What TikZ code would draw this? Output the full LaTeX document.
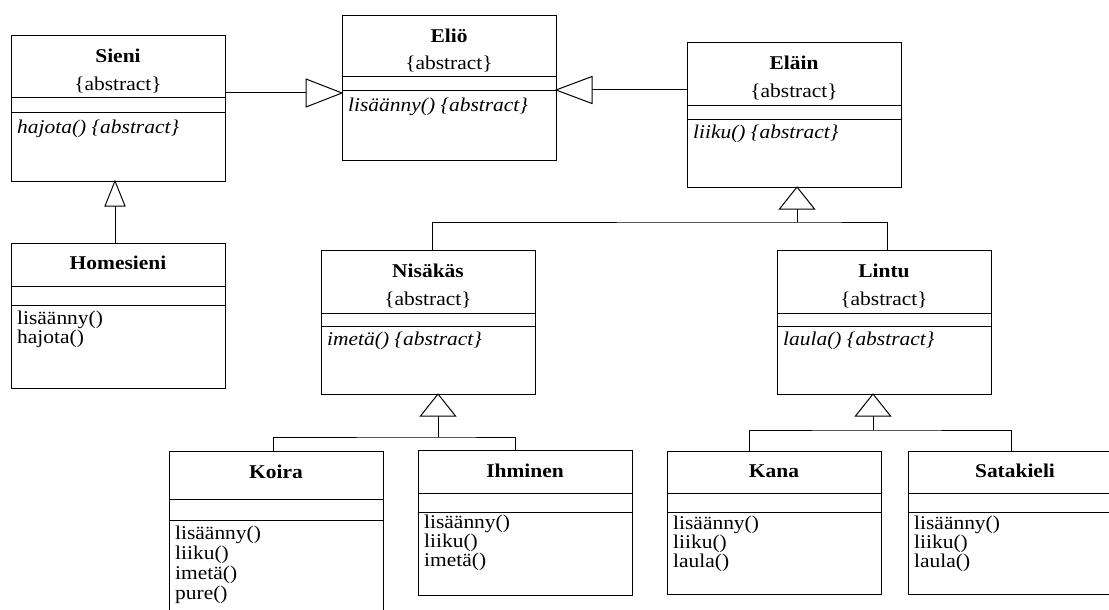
\documentclass[tikz,border=0pt]{standalone}
\usepackage{fontspec}
\setmainfont[FakeStretch=1.1]{Liberation Serif}
\usetikzlibrary{calc}
\tikzset{
  clsbox/.style={draw=black, line width=1pt, anchor=north west, minimum width=214pt, minimum height=144pt, inner sep=0pt, outer sep=0pt},
  ttl/.style={anchor=base, font=\fontsize{19.5}{17}\selectfont\bfseries, inner sep=0pt},
  abst/.style={anchor=base, font=\fontsize{19.5}{17}\selectfont, inner sep=0pt},
  ops/.style={anchor=base west, align=left, font=\fontsize{19.5}{17}\selectfont, inner sep=0pt},
  wideops/.style={anchor=base west, align=left, font=\fontsize{19.5}{20}\selectfont, inner sep=0pt},
  iops/.style={anchor=base west, align=left, font=\fontsize{19.5}{17}\selectfont\itshape, inner sep=0pt},
  sepline/.style={line width=1pt},
  conn/.style={line width=1pt},
  gen/.style={line width=1pt, fill=white, line join=miter},
}
\newcommand\umlcls[6]{%
  \node[clsbox, minimum height=#4pt] (#1) at (#2,#3) {};
  \draw[sepline] ($(#1.north west)+(0,#5)$) -- ($(#1.north east)+(0,#5)$);
  \draw[sepline] ($(#1.north west)+(0,#6)$) -- ($(#1.north east)+(0,#6)$);
}
\begin{document}
\begin{tikzpicture}[x=1pt,y=-1pt]
\useasboundingbox (0,0) rectangle (1109,610);
\clip (0,0) rectangle (1109,610);
\fill[white] (0,0) rectangle (1109,610);

% classes
\umlcls{sieni}{11}{36}{145}{62}{76}
\umlcls{elio}{342}{16}{144}{61}{75}
\umlcls{elain}{687}{43}{144}{62}{76}
\umlcls{homesieni}{11}{243}{145}{43}{62}
\umlcls{nisakas}{321}{250}{144}{63}{76}
\umlcls{lintu}{777}{250}{144}{63}{76}
\umlcls{koira}{169}{451}{180}{48}{69}
\umlcls{ihminen}{418}{450}{145}{43}{62}
\umlcls{kana}{667}{451}{143}{42}{61}
\umlcls{satakieli}{908}{451}{143}{42}{61}

% texts
\node[ttl] (sieniT) at ($(sieni.north)+(0,27)$) {Sieni};
\node[abst] (sieniA) at ($(sieni.north)+(0,55)$) {\{abstract\}};
\node[iops] (sieniM) at ($(sieni.north west)+(6,97)$) {hajota() \{abstract\}};

\node[ttl] (elioT) at ($(elio.north)+(0,27)$) {Eliö};
\node[abst] (elioA) at ($(elio.north)+(0,54)$) {\{abstract\}};
\node[iops] (elioM) at ($(elio.north west)+(6,95)$) {lisäänny() \{abstract\}};

\node[ttl] (elainT) at ($(elain.north)+(0,27)$) {Eläin};
\node[abst] (elainA) at ($(elain.north)+(0,55)$) {\{abstract\}};
\node[iops] (elainM) at ($(elain.north west)+(6,96)$) {liiku() \{abstract\}};

\node[ttl] (nisakasT) at ($(nisakas.north)+(0,27)$) {Nisäkäs};
\node[abst] (nisakasA) at ($(nisakas.north)+(0,55)$) {\{abstract\}};
\node[iops] (nisakasM) at ($(nisakas.north west)+(6,95)$) {imetä() \{abstract\}};

\node[ttl] (lintuT) at ($(lintu.north)+(0,27)$) {Lintu};
\node[abst] (lintuA) at ($(lintu.north)+(0,55)$) {\{abstract\}};
\node[iops] (lintuM) at ($(lintu.north west)+(6,95)$) {laula() \{abstract\}};

% multi-line method lists: base anchor is the baseline of the last line
\node[ttl] (homesieniT) at ($(homesieni.north)+(0,26)$) {Homesieni};
\node[ops] (homesieniM) at ($(homesieni.north west)+(6,100)$) {lisäänny()\\hajota()};

\node[ttl] (koiraT) at ($(koira.north)+(0,27)$) {Koira};
\node[wideops] (koiraM) at ($(koira.north west)+(6,148)$) {lisäänny()\\liiku()\\imetä()\\pure()};

\node[ttl] (ihminenT) at ($(ihminen.north)+(0,27)$) {Ihminen};
\node[ops] (ihminenM) at ($(ihminen.north west)+(6,116)$) {lisäänny()\\liiku()\\imetä()};

\node[ttl] (kanaT) at ($(kana.north)+(0,26)$) {Kana};
\node[ops] (kanaM) at ($(kana.north west)+(6,116)$) {lisäänny()\\liiku()\\laula()};

\node[ttl] (satakieliT) at ($(satakieli.north)+(0,26)$) {Satakieli};
\node[ops] (satakieliM) at ($(satakieli.north west)+(6,116)$) {lisäänny()\\liiku()\\laula()};

% Sieni -> Elio
\coordinate (g1) at ($(elio.north west)+(0,77)$);
\coordinate (s1) at (sieni.east |- g1);
\draw[conn] (s1) -- ($(g1)+(-36,0)$);
\draw[gen] (g1) -- ++(-36,-14) -- ++(0,28) -- cycle;

% Elain -> Elio
\coordinate (g2) at ($(elio.north east)+(0,74)$);
\coordinate (s2) at (elain.west |- g2);
\draw[conn] (s2) -- ($(g2)+(36,0)$);
\draw[gen] (g2) -- ++(36,-13.5) -- ++(0,27) -- cycle;

% Homesieni -> Sieni
\coordinate (g3) at ($(sieni.south west)+(104,0)$);
\coordinate (h3) at (g3 |- homesieni.north);
\draw[conn] ($(g3)+(0,25)$) -- (h3);
\draw[gen] (g3) -- ++(-10,25) -- ++(20,0) -- cycle;

% Nisakas, Lintu -> Elain
\coordinate (g4) at ($(elain.south west)+(110,0)$);
\coordinate (b4) at ($(g4)+(0,35)$);
\coordinate (n4) at ($(nisakas.north west)+(111,0)$);
\coordinate (l4) at ($(lintu.north west)+(110,0)$);
\draw[conn] ($(g4)+(0,22)$) -- (b4);
\draw[conn] (n4) |- (b4) -| (l4);
\draw[gen] (g4) -- ++(-17.5,22) -- ++(35,0) -- cycle;

% Koira, Ihminen -> Nisakas
\coordinate (g5) at ($(nisakas.south west)+(117,0)$);
\coordinate (b5) at ($(g5)+(0,43)$);
\coordinate (k5) at ($(koira.north west)+(104,0)$);
\coordinate (i5) at ($(ihminen.north west)+(97,0)$);
\draw[conn] ($(g5)+(0,22)$) -- (b5);
\draw[conn] (k5) |- (b5) -| (i5);
\draw[gen] (g5) -- ++(-17.5,22) -- ++(35,0) -- cycle;

% Kana, Satakieli -> Lintu
\coordinate (g6) at ($(lintu.south west)+(96,0)$);
\coordinate (b6) at ($(g6)+(0,36)$);
\coordinate (k6) at ($(kana.north west)+(82,0)$);
\coordinate (s6) at ($(satakieli.north west)+(103,0)$);
\draw[conn] ($(g6)+(0,22)$) -- (b6);
\draw[conn] (k6) |- (b6) -| (s6);
\draw[gen] (g6) -- ++(-17.5,22) -- ++(35,0) -- cycle;
\end{tikzpicture}
\end{document}
